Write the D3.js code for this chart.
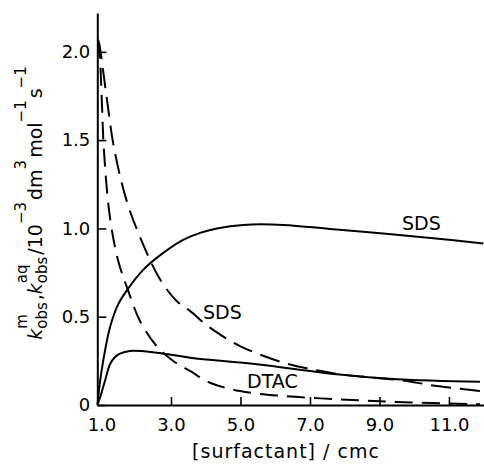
<!DOCTYPE html>
<html>
<head>
<meta charset="utf-8">
<script src="https://cdn.jsdelivr.net/npm/d3@7"></script>
<style>
  body { margin: 0; background: #fff; }
  svg { display: block; }
  text { font-family: "DejaVu Sans", sans-serif; fill: #000; }
</style>
</head>
<body>
<div id="graph"></div>
<script>
// chart size
var graph_view_width = 484, graph_view_height = 471;

// x = [surfactant]/cmc, y = k / 10^-3 dm^3 mol^-1 s^-1
// solid lines: k_obs^m, dashed lines: k_obs^aq
var sds_m_x  = [0.885, 0.95, 1.05, 1.245, 1.48, 1.77, 2.2, 2.7, 3.35, 3.84, 4.32, 5.08, 6.23, 7.67, 9.11, 10.55, 11.99];
var sds_m_y  = [0, 0.12, 0.25, 0.44, 0.57, 0.66, 0.765, 0.85, 0.935, 0.975, 1.0, 1.02, 1.02, 0.995, 0.971, 0.945, 0.914];

var dtac_m_x = [0.885, 0.957, 1.1, 1.245, 1.39, 1.53, 1.82, 2.59, 3.55, 5.47, 7.77, 9.5, 11.89];
var dtac_m_y = [0, 0.041, 0.136, 0.231, 0.272, 0.291, 0.306, 0.296, 0.268, 0.231, 0.174, 0.146, 0.132];

var sds_aq_x = [0.9, 0.937, 1.15, 1.36, 1.725, 2.157, 2.683, 3.164, 3.547, 4.122, 4.986, 6.232, 7.193, 7.863, 9.783, 10.453, 11.892];
var sds_aq_y = [2.07, 2.044, 1.741, 1.458, 1.156, 0.929, 0.712, 0.589, 0.533, 0.438, 0.334, 0.24, 0.197, 0.174, 0.136, 0.113, 0.079];

var dtac_aq_x = [0.9, 0.937, 1.006, 1.072, 1.245, 1.483, 1.771, 2.108, 2.588, 3.066, 3.547, 4.122, 4.986, 6.232, 7.863, 9.495, 11.892];
var dtac_aq_y = [2.062, 2.024, 1.741, 1.439, 1.061, 0.816, 0.646, 0.476, 0.334, 0.249, 0.193, 0.126, 0.079, 0.051, 0.032, 0.017, 0.004];

// ticks
var x_ticks = [1, 3, 5, 7, 9, 11];
var x_tick_labels = ["1.0", "3.0", "5.0", "7.0", "9.0", "11.0"];
var y_ticks = [0, 0.5, 1, 1.5, 2];
var y_tick_labels = ["0", "0.5", "1.0", "1.5", "2.0"];

// curve labels (text, x, y in data units)
var label_text = ["SDS", "SDS", "DTAC"];
var label_x = [9.65, 3.92, 5.19];
var label_y = [0.99, 0.487, 0.096];

var x_title = "[surfactant] / cmc";

var x = d3.scaleLinear().domain([0.88, 12.06]).range([97.3, 485.8]);
var y = d3.scaleLinear().domain([0, 2.22]).range([405, 13]);

var graph_svg = d3.select("#graph")
    .append("svg")
    .attr("width", graph_view_width)
    .attr("height", graph_view_height);

function to_points(xs, ys) {
    return xs.map(function (v, i) { return [v, ys[i]]; });
}

var line = d3.line()
    .x(function (d) { return x(d[0]); })
    .y(function (d) { return y(d[1]); })
    .curve(d3.curveCatmullRom.alpha(0.5));

var series = [
    { pts: to_points(sds_m_x, sds_m_y), dash: null },
    { pts: to_points(dtac_m_x, dtac_m_y), dash: null },
    { pts: to_points(sds_aq_x, sds_aq_y), dash: "20,9" },
    { pts: to_points(dtac_aq_x, dtac_aq_y), dash: "18,9" }
];

graph_svg.selectAll("path.curve")
    .data(series)
    .enter()
    .append("path")
    .attr("class", "curve")
    .attr("d", function (d) { return line(d.pts); })
    .attr("fill", "none")
    .attr("stroke", "#000")
    .attr("stroke-width", 2)
    .attr("stroke-dasharray", function (d) { return d.dash; });

// axes, ticks point inward
var x_axis = d3.axisBottom(x)
    .tickValues(x_ticks)
    .tickFormat(function (d, i) { return x_tick_labels[i]; })
    .tickSizeInner(-8)
    .tickSizeOuter(0)
    .tickPadding(13);

var y_axis = d3.axisLeft(y)
    .tickValues(y_ticks)
    .tickFormat(function (d, i) { return y_tick_labels[i]; })
    .tickSizeInner(-9)
    .tickSizeOuter(0)
    .tickPadding(7);

var gx = graph_svg.append("g")
    .attr("transform", "translate(0," + y(0) + ")")
    .call(x_axis);
var gy = graph_svg.append("g")
    .attr("transform", "translate(" + x.range()[0] + ",0)")
    .call(y_axis);

[gx, gy].forEach(function (g) {
    g.selectAll(".domain").attr("stroke", "#000").attr("stroke-width", 2);
    g.selectAll(".tick line").attr("stroke", "#000").attr("stroke-width", 1.6);
    g.selectAll(".tick text")
        .style("font-family", "DejaVu Sans, sans-serif")
        .style("font-size", "18px")
        .attr("fill", "#000");
});
// no tick mark at 1.0, it sits on the y axis
gx.selectAll(".tick line").filter(function (d) { return d === 1; }).remove();

// curve labels
graph_svg.selectAll("text.lbl")
    .data(label_text)
    .enter()
    .append("text")
    .attr("class", "lbl")
    .attr("x", function (d, i) { return x(label_x[i]); })
    .attr("y", function (d, i) { return y(label_y[i]); })
    .style("font-size", "19px")
    .text(function (d) { return d; });

// x title
graph_svg.append("text")
    .attr("x", 286)
    .attr("y", 458)
    .attr("text-anchor", "middle")
    .style("font-size", "19px")
    .style("letter-spacing", "1px")
    .text(x_title);

// y title, built piece by piece (sub/superscripts)
var title_parts = [
    { t: "k", kind: "main", italic: true },
    { t: "obs", kind: "subsup", sup: "m" },
    { t: ", ", kind: "main" },
    { t: "k", kind: "main", italic: true },
    { t: "obs", kind: "subsup", sup: "aq" },
    { t: " /10", kind: "main" },
    { t: "\u22123", kind: "sup" },
    { t: "dm", kind: "main" },
    { t: "3", kind: "sup" },
    { t: " mol", kind: "main" },
    { t: "\u22121", kind: "sup" },
    { t: " s", kind: "main" },
    { t: "\u22121", kind: "sup" }
];
var y_title = graph_svg.append("g");
var pos = 0;
function add_piece(str, size, dy, italic) {
    var t = y_title.append("text")
        .attr("x", pos)
        .attr("y", dy)
        .style("font-size", size + "px")
        .style("font-style", italic ? "italic" : "normal")
        .text(str);
    return t.node().getComputedTextLength();
}
title_parts.forEach(function (p) {
    var w;
    if (p.kind === "main") {
        w = add_piece(p.t, 19, 0, p.italic);
    } else if (p.kind === "sup") {
        w = add_piece(p.t, 15, -16, false) + 2;
    } else {
        var w1 = add_piece(p.t, 15, 5, false);
        var w2 = add_piece(p.sup, 15, -15, false);
        w = Math.max(w1, w2) + 2;
    }
    pos += w;
});
// centre the title along the axis
y_title.selectAll("text").attr("x", function () { return +d3.select(this).attr("x") - pos / 2; });
y_title.attr("transform", "translate(42,202) rotate(-90)");
</script>
</body>
</html>
